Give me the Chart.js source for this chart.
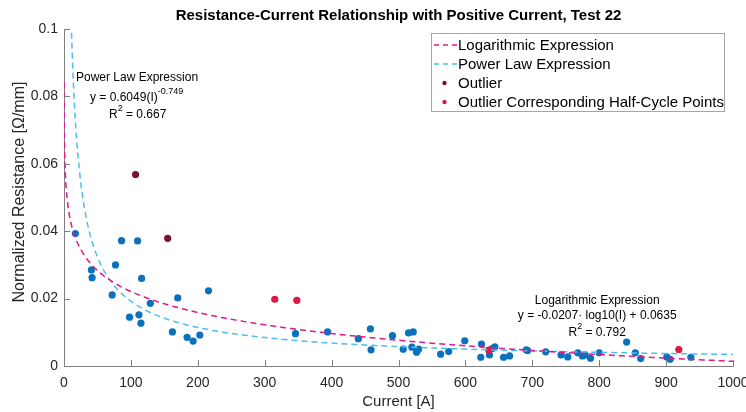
<!DOCTYPE html>
<html>
<head>
<meta charset="utf-8">
<script src="https://cdn.jsdelivr.net/npm/chart.js@4"></script>
<style>
  html, body { margin: 0; padding: 0; background: #ffffff; }
  #wrap { width: 746px; height: 412px; position: relative; }
</style>
</head>
<body>
<div id="wrap"><canvas id="chart" width="746" height="412"></canvas></div>
<script>
// Measured half-cycle points: current [A] and normalized resistance [Ω/mm]
const CURRENT = [17, 41, 42, 72, 77, 86, 98, 110, 112, 115, 116, 129, 162, 170, 184, 193, 203, 216,
  346, 394, 440, 458, 459, 491, 507, 515, 522, 520, 527, 530, 563, 575, 599, 624, 623, 636, 640, 644,
  657, 666, 691, 693, 720, 743, 753, 768, 775, 779, 787, 800, 841, 854, 862, 901, 906, 937];
const RESISTANCE = [0.0393, 0.0285, 0.0262, 0.0211, 0.0300, 0.0372, 0.0145, 0.0371, 0.0152, 0.0127,
  0.0260, 0.0186, 0.0101, 0.0202, 0.0085, 0.0074, 0.0092, 0.0223,
  0.0096, 0.0101, 0.0081, 0.0110, 0.0048, 0.0090, 0.0050, 0.0098, 0.0101, 0.0056, 0.0041, 0.0050,
  0.0035, 0.0043, 0.0075, 0.0065, 0.0026, 0.0033, 0.0052, 0.0057,
  0.0026, 0.0030, 0.0048, 0.0046, 0.0042, 0.0033, 0.0027, 0.0039, 0.0030, 0.0033, 0.0023, 0.0039,
  0.0071, 0.0039, 0.0022, 0.0027, 0.0020, 0.0026];

const OUTLIER_CURRENT = [107, 155];
const OUTLIER_RESISTANCE = [0.0568, 0.0379];

const HALF_CYCLE_CURRENT = [315, 348, 635, 919];
const HALF_CYCLE_RESISTANCE = [0.0198, 0.0195, 0.0047, 0.0049];

// Fit coefficients
const LOG_COEF = [-0.0207, 0.0635];   // y = a·log10(I) + b
const POW_COEF = [0.6049, -0.749];    // y = c·I^k
const R_SQUARED = [0.792, 0.667];     // [log, power]

const X_TICKS = [0, 100, 200, 300, 400, 500, 600, 700, 800, 900, 1000];
const Y_TICKS = [0, 0.02, 0.04, 0.06, 0.08, 0.1];

const SERIES_NAMES = ['Logarithmic Expression', 'Power Law Expression', 'Outlier',
  'Outlier Corresponding Half-Cycle Points'];

const COLORS = {
  log: '#e2188f', pow: '#4dbeee', outlier: '#7a1233', half: '#e0173f', data: '#0a72bd',
  axis: '#7f7f7f', text: '#262626'
};

const zip = (xs, ys) => xs.map((x, i) => ({ x, y: ys[i] }));

// Evaluation grid for the fitted curves (denser close to zero where they are steep)
function grid(start) {
  const g = [];
  for (let v = start; v < 20; v *= 1.15) g.push(v);
  for (let v = 20; v <= 1000; v += 5) g.push(v);
  return g;
}
const logCurve = grid(0.1).map(I => ({ x: I, y: LOG_COEF[0] * Math.log10(I) + LOG_COEF[1] }));
const powCurve = grid(10).map(I => ({ x: I, y: POW_COEF[0] * Math.pow(I, POW_COEF[1]) }));

const FONT = '"Liberation Sans", Arial, Helvetica, sans-serif';

// Title, axis titles, inward ticks, legend box and fit annotations
const decor = {
  id: 'decor',
  afterDraw(chart) {
    const { ctx, chartArea: a, scales: { x, y } } = chart;
    ctx.save();

    // inward tick marks
    ctx.strokeStyle = COLORS.axis;
    ctx.lineWidth = 1;
    ctx.beginPath();
    X_TICKS.forEach(v => {
      const px = Math.round(x.getPixelForValue(v)) + 0.5;
      ctx.moveTo(px, a.bottom); ctx.lineTo(px, a.bottom - 6);
    });
    Y_TICKS.forEach(v => {
      const py = Math.round(y.getPixelForValue(v)) + 0.5;
      ctx.moveTo(a.left, py); ctx.lineTo(a.left + 6, py);
    });
    ctx.stroke();

    // title
    ctx.fillStyle = '#000';
    ctx.font = 'bold 15px ' + FONT;
    ctx.textAlign = 'center';
    ctx.textBaseline = 'middle';
    ctx.fillText('Resistance-Current Relationship with Positive Current, Test 22', (a.left + a.right) / 2, 16);

    // axis titles
    ctx.fillStyle = COLORS.text;
    ctx.font = '15px ' + FONT;
    ctx.fillText('Current [A]', (a.left + a.right) / 2, 402);
    ctx.save();
    ctx.translate(20, 192);
    ctx.rotate(-Math.PI / 2);
    ctx.font = '16px ' + FONT;
    ctx.fillText('Normalized Resistance [Ω/mm]', 0, 0);
    ctx.restore();

    // legend
    const lx = 431.5, ly = 33.5, lw = 293, lh = 78;
    ctx.fillStyle = '#fff';
    ctx.fillRect(lx, ly, lw, lh);
    ctx.strokeStyle = '#a6a6a6';
    ctx.strokeRect(lx, ly, lw, lh);
    const rows = [45, 64, 83, 102];
    ctx.font = '15px ' + FONT;
    ctx.textAlign = 'left';
    SERIES_NAMES.forEach((name, i) => {
      const ry = rows[i];
      if (i < 2) {
        ctx.strokeStyle = i === 0 ? COLORS.log : COLORS.pow;
        ctx.lineWidth = 1.5;
        ctx.setLineDash([5, 4]);
        ctx.beginPath(); ctx.moveTo(434, ry); ctx.lineTo(457, ry); ctx.stroke();
        ctx.setLineDash([]);
      } else {
        ctx.fillStyle = i === 2 ? COLORS.outlier : COLORS.half;
        ctx.beginPath(); ctx.arc(444.5, ry, 2.2, 0, Math.PI * 2); ctx.fill();
      }
      ctx.fillStyle = '#000';
      ctx.fillText(name, 458, ry + 1);
    });

    // annotation helper with superscript
    function supLine(parts, cx, cy, align) {
      // parts: [[text, isSup], ...]
      const widths = parts.map(([t, s]) => { ctx.font = (s ? '9px ' : '12px ') + FONT; return ctx.measureText(t).width; });
      const total = widths.reduce((p, q) => p + q, 0);
      let px = align === 'center' ? cx - total / 2 : cx;
      ctx.textAlign = 'left';
      parts.forEach(([t, s], i) => {
        ctx.font = (s ? '9px ' : '12px ') + FONT;
        ctx.fillText(t, px, s ? cy - 6 : cy);
        px += widths[i];
      });
    }
    ctx.fillStyle = '#000';
    ctx.textBaseline = 'middle';

    // power-law annotation
    supLine([['Power Law Expression', false]], 76, 78, 'left');
    supLine([['y = ' + POW_COEF[0] + '(I)', false], [String(POW_COEF[1]), true]], 90, 98, 'left');
    supLine([['R', false], ['2', true], [' = ' + R_SQUARED[1], false]], 109, 115, 'left');

    // logarithmic annotation
    const ax = x.getPixelForValue(797);
    supLine([['Logarithmic Expression', false]], ax, 301, 'center');
    supLine([['y = ' + LOG_COEF[0] + '· log10(I) + ' + LOG_COEF[1], false]], ax, 316, 'center');
    supLine([['R', false], ['2', true], [' = ' + R_SQUARED[0], false]], ax, 333, 'center');

    ctx.restore();
  }
};

new Chart(document.getElementById('chart'), {
  type: 'scatter',
  data: {
    datasets: [
      { label: SERIES_NAMES[0], data: logCurve, showLine: true, borderColor: COLORS.log, borderWidth: 1.5,
        borderDash: [6, 4], pointRadius: 0, fill: false, order: 0 },
      { label: SERIES_NAMES[1], data: powCurve, showLine: true, borderColor: COLORS.pow, borderWidth: 1.5,
        borderDash: [6, 4], pointRadius: 0, fill: false, order: 1 },
      { label: SERIES_NAMES[2], data: zip(OUTLIER_CURRENT, OUTLIER_RESISTANCE), backgroundColor: COLORS.outlier,
        borderWidth: 0, pointRadius: 3.6, order: 3 },
      { label: SERIES_NAMES[3], data: zip(HALF_CYCLE_CURRENT, HALF_CYCLE_RESISTANCE), backgroundColor: COLORS.half,
        borderWidth: 0, pointRadius: 3.6, order: 2 },
      { label: 'Data', data: zip(CURRENT, RESISTANCE), backgroundColor: COLORS.data,
        borderWidth: 0, pointRadius: 3.6, order: 4 }
    ]
  },
  options: {
    responsive: false,
    animation: false,
    layout: { padding: { top: 29, right: 13, left: 0, bottom: 0 } },
    plugins: { legend: { display: false }, tooltip: { enabled: false }, title: { display: false } },
    scales: {
      x: {
        type: 'linear', min: 0, max: 1000,
        afterFit: s => { s.height = 46; s.paddingRight = 0; s.paddingLeft = 0; },
        afterBuildTicks: s => { s.ticks = X_TICKS.map(v => ({ value: v })); },
        ticks: { color: COLORS.text, font: { family: FONT, size: 14 }, padding: 9, maxRotation: 0,
          callback: v => String(v) },
        grid: { display: false, drawTicks: false },
        border: { display: true, color: COLORS.axis, width: 1 }
      },
      y: {
        type: 'linear', min: 0, max: 0.1,
        afterFit: s => { s.width = 64; s.paddingTop = 0; s.paddingBottom = 0; },
        afterBuildTicks: s => { s.ticks = Y_TICKS.map(v => ({ value: v })); },
        ticks: { color: COLORS.text, font: { family: FONT, size: 14 }, padding: 6,
          callback: v => String(Number(v.toFixed(2))) },
        grid: { display: false, drawTicks: false },
        border: { display: true, color: COLORS.axis, width: 1 }
      }
    }
  },
  plugins: [decor]
});
</script>
</body>
</html>
